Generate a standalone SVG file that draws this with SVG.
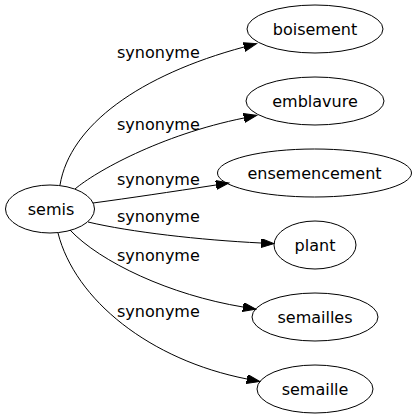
<svg xmlns="http://www.w3.org/2000/svg" width="417" height="419" viewBox="0 0 417 419">
<style>
  .node ellipse { fill: none; stroke: #000; stroke-width: 1; }
  text { font-family: "DejaVu Sans", "Liberation Sans", sans-serif; font-size: 16px; fill: #000; }
  .node text { text-anchor: middle; }
  .edge path { fill: none; stroke: #000; stroke-width: 1; marker-end: url(#arrow); }
  .lbl { text-anchor: start; }
</style>
<defs>
  <marker id="arrow" markerUnits="userSpaceOnUse" markerWidth="14" markerHeight="10" refX="0" refY="4.5" orient="auto">
    <path d="M0,0 L13,4.5 L0,9 z" fill="#000" stroke="#000" stroke-width="1"/>
  </marker>
</defs>
<g id="edges">
  <g class="edge"><path d="M60,185 C70,125 140,75 244,47"/><text class="lbl" x="117" y="58">synonyme</text></g>
  <g class="edge"><path d="M75,189 C95,172 160,135 244,118"/><text class="lbl" x="117" y="130">synonyme</text></g>
  <g class="edge"><path d="M93,203 C130,198 170,192 216,185"/><text class="lbl" x="117" y="185">synonyme</text></g>
  <g class="edge"><path d="M88,222 C130,232 200,240 261,243"/><text class="lbl" x="117" y="222">synonyme</text></g>
  <g class="edge"><path d="M70,230 C100,262 170,295 243,307"/><text class="lbl" x="117" y="261">synonyme</text></g>
  <g class="edge"><path d="M58,233 C75,300 150,360 247,379"/><text class="lbl" x="117" y="317">synonyme</text></g>
</g>
<g id="semis" class="node"><ellipse cx="50" cy="209" rx="44.5" ry="24"/><text x="51" y="215">semis</text></g>
<g id="boisement" class="node"><ellipse cx="315" cy="29" rx="68" ry="24"/><text x="315" y="35">boisement</text></g>
<g id="emblavure" class="node"><ellipse cx="315" cy="101" rx="69" ry="24"/><text x="315" y="107">emblavure</text></g>
<g id="ensemencement" class="node"><ellipse cx="314.5" cy="173" rx="97" ry="24"/><text x="314.5" y="179">ensemencement</text></g>
<g id="plant" class="node"><ellipse cx="315" cy="245" rx="41" ry="24"/><text x="315" y="251">plant</text></g>
<g id="semailles" class="node"><ellipse cx="315" cy="317" rx="63" ry="24"/><text x="315" y="323">semailles</text></g>
<g id="semaille" class="node"><ellipse cx="315" cy="389" rx="58" ry="24"/><text x="315" y="395">semaille</text></g>
</svg>
